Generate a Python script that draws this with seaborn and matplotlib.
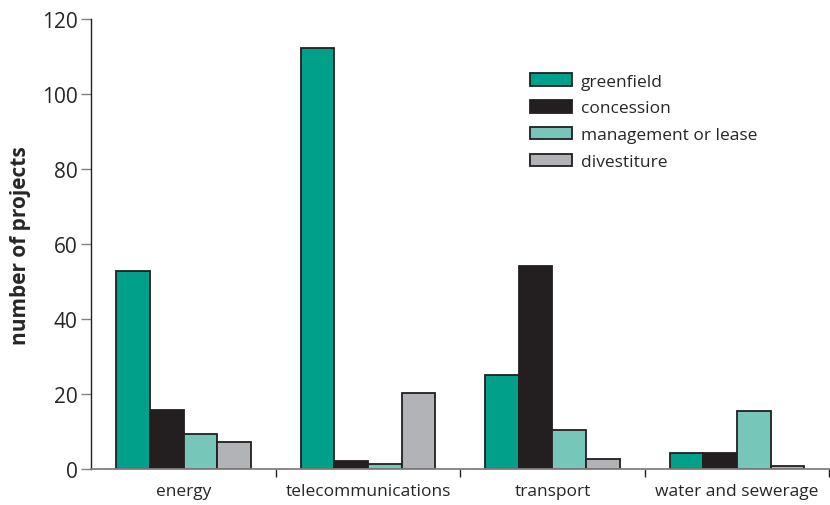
import pandas as pd
import seaborn as sns
from matplotlib import pyplot as plt
from matplotlib.ticker import FixedLocator

# chart values
sectors = ['energy', 'telecommunications', 'transport', 'water and sewerage']
types = ['greenfield', 'concession', 'management or lease', 'divestiture']
greenfield = [52.8, 112.2, 25.0, 4.3]
concession = [15.7, 2.1, 54.2, 4.3]
management = [9.3, 1.3, 10.5, 15.6]
divestiture = [7.2, 20.3, 2.7, 0.8]

palette = ['#00a08a', '#231f20', '#76c6ba', '#b1b3b6']

rows = []
for t, vals in zip(types, [greenfield, concession, management, divestiture]):
    for s, v in zip(sectors, vals):
        rows.append((s, t, v))
df = pd.DataFrame(rows, columns=['sector', 'type', 'projects'])

sns.set_style('white')
plt.rcParams['font.family'] = ['Open Sans', 'DejaVu Sans']

fig = plt.figure(figsize=(8.3, 5.06), dpi=100)
ax = fig.add_axes([0.11, 0.071, 0.889, 0.889])

sns.barplot(data=df, x='sector', y='projects', hue='type', order=sectors, hue_order=types,
            palette=palette, saturation=1, width=0.73, edgecolor='#231f20', linewidth=1.3,
            ax=ax)

ax.set_xlim(-0.5, 3.5)
ax.set_ylim(0, 120)
ax.set_yticks([0, 20, 40, 60, 80, 100, 120])
ax.tick_params(axis='y', labelsize=15, length=7, width=1, color='#808080', left=True, pad=3)
ax.tick_params(axis='x', which='major', labelsize=12.5, length=0, pad=10)
ax.xaxis.set_minor_locator(FixedLocator([0.5, 1.5, 2.5, 3.5]))
ax.tick_params(axis='x', which='minor', bottom=True, length=6, width=1, color='#231f20')

for side in ['top', 'right']:
    ax.spines[side].set_visible(False)
ax.spines['left'].set_color('#231f20')
ax.spines['bottom'].set_color('#808080')
ax.spines['left'].set_linewidth(1)
ax.spines['bottom'].set_linewidth(1.3)

ax.set_xlabel('')
ax.set_ylabel('number of projects', fontsize=15, fontweight='bold', labelpad=8)

leg = ax.legend(loc='upper left', bbox_to_anchor=(0.573, 0.915), frameon=False, fontsize=12.5,
                handlelength=2.45, handleheight=0.75, labelspacing=0.6, handletextpad=0.5)
leg.set_title(None)

fig.savefig('out.png', dpi=100)
